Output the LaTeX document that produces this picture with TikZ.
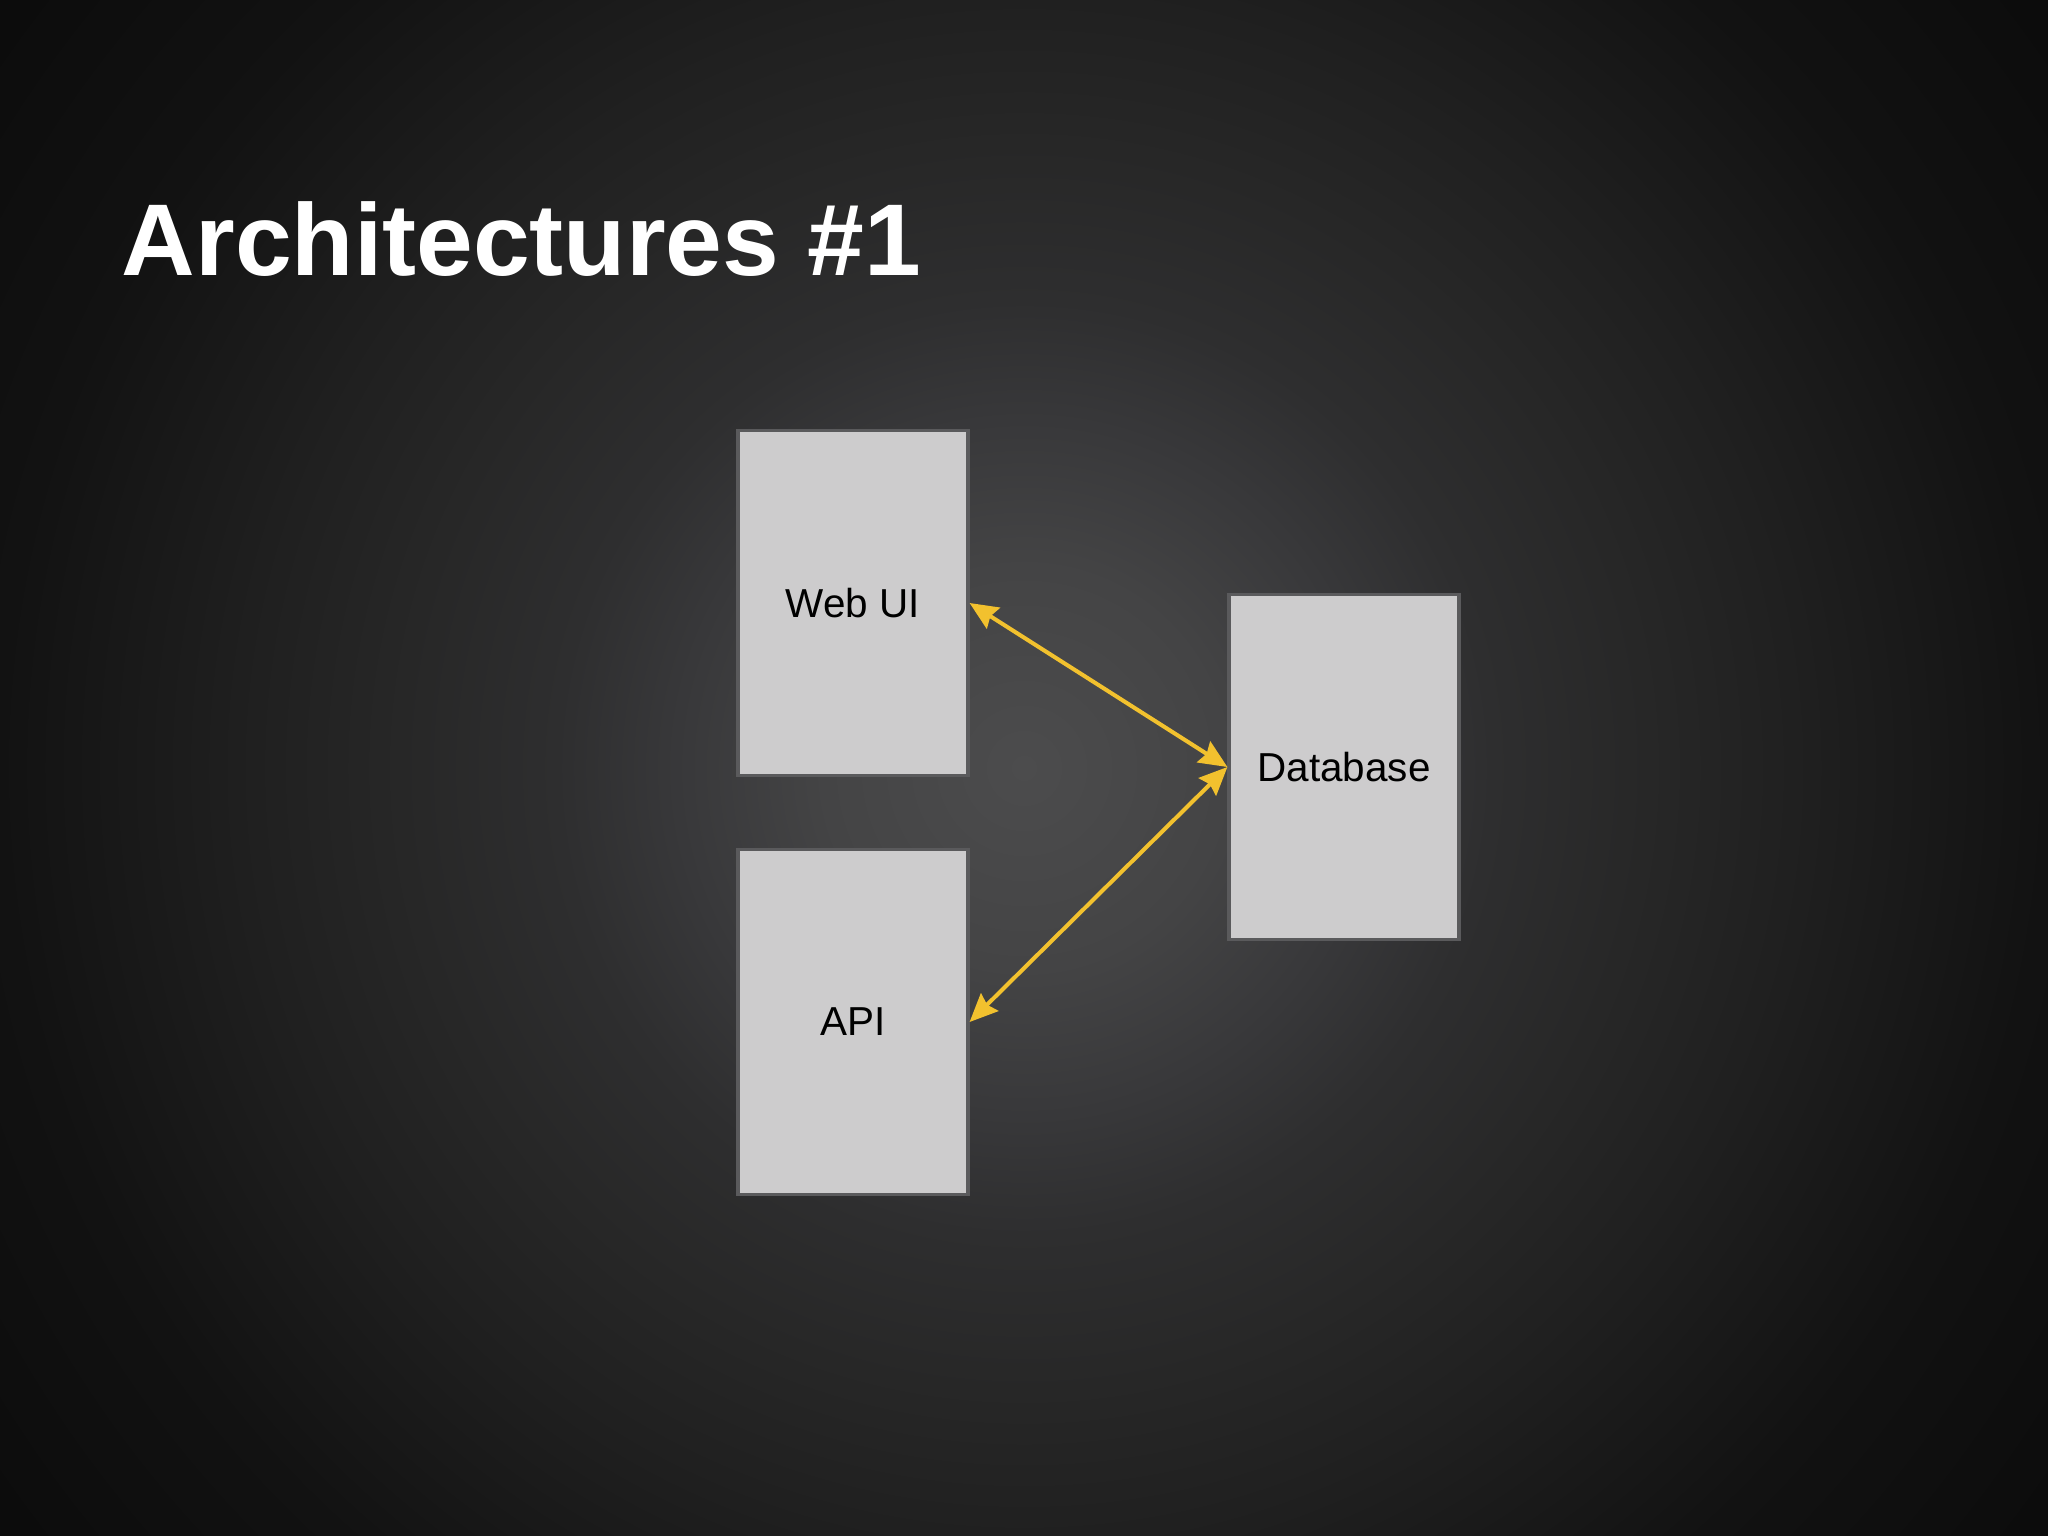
\documentclass[tikz,border=0pt]{standalone}
\usepackage{fontspec}
\setmainfont{Liberation Sans}
\usetikzlibrary{arrows.meta}
\definecolor{bga}{HTML}{4C4C4D}
\definecolor{bgb}{HTML}{444445}
\definecolor{bgc}{HTML}{38383A}
\definecolor{bgd}{HTML}{2E2E2F}
\definecolor{bge}{HTML}{272727}
\definecolor{bgf}{HTML}{202020}
\definecolor{bgg}{HTML}{121212}
\definecolor{bgh}{HTML}{0B0B0B}
\pgfdeclareradialshading{bgshade}{\pgfpoint{0bp}{0bp}}{color(0bp)=(bga); color(3.85bp)=(bgb); color(6.7bp)=(bgc); color(9bp)=(bgd); color(12bp)=(bge); color(14.8bp)=(bgf); color(19.7bp)=(bgg); color(25bp)=(bgh); color(50bp)=(bgh)}
\definecolor{boxfill}{HTML}{CDCCCD}
\definecolor{boxline}{HTML}{5A5A5C}
\definecolor{arrowc}{HTML}{F2C12E}
\tikzset{
  compbox/.style={draw=boxline, line width=0.9pt, fill=boxfill, minimum width=230*0.01cm, minimum height=345*0.01cm, inner sep=0pt, font=\fontsize{11.5}{14}\selectfont, text=black},
  link/.style={draw=arrowc, line width=1.15pt, {Stealth[length=8pt,width=7pt,inset=1pt]}-{Stealth[length=8pt,width=7pt,inset=1pt]}}
}
\begin{document}
\begin{tikzpicture}[x=0.01cm,y=-0.01cm]
\useasboundingbox (0,0) rectangle (2048,1536);
\shade[shading=bgshade] (1024-1300,768-1300) rectangle (1024+1300,768+1300);
\node[anchor=base west, inner sep=0pt, text=white, font=\fontsize{29}{34}\bfseries\selectfont] (title) at (121,275) {Architectures \#1};
\node[compbox] (web) at (853,603) {Web UI};
\node[compbox] (api) at (853,1022) {API};
\node[compbox] (db) at (1344,767) {Database};
\draw[link] (web.east) -- (db.west);
\draw[link] (api.east) -- (db.west);
\end{tikzpicture}
\end{document}
